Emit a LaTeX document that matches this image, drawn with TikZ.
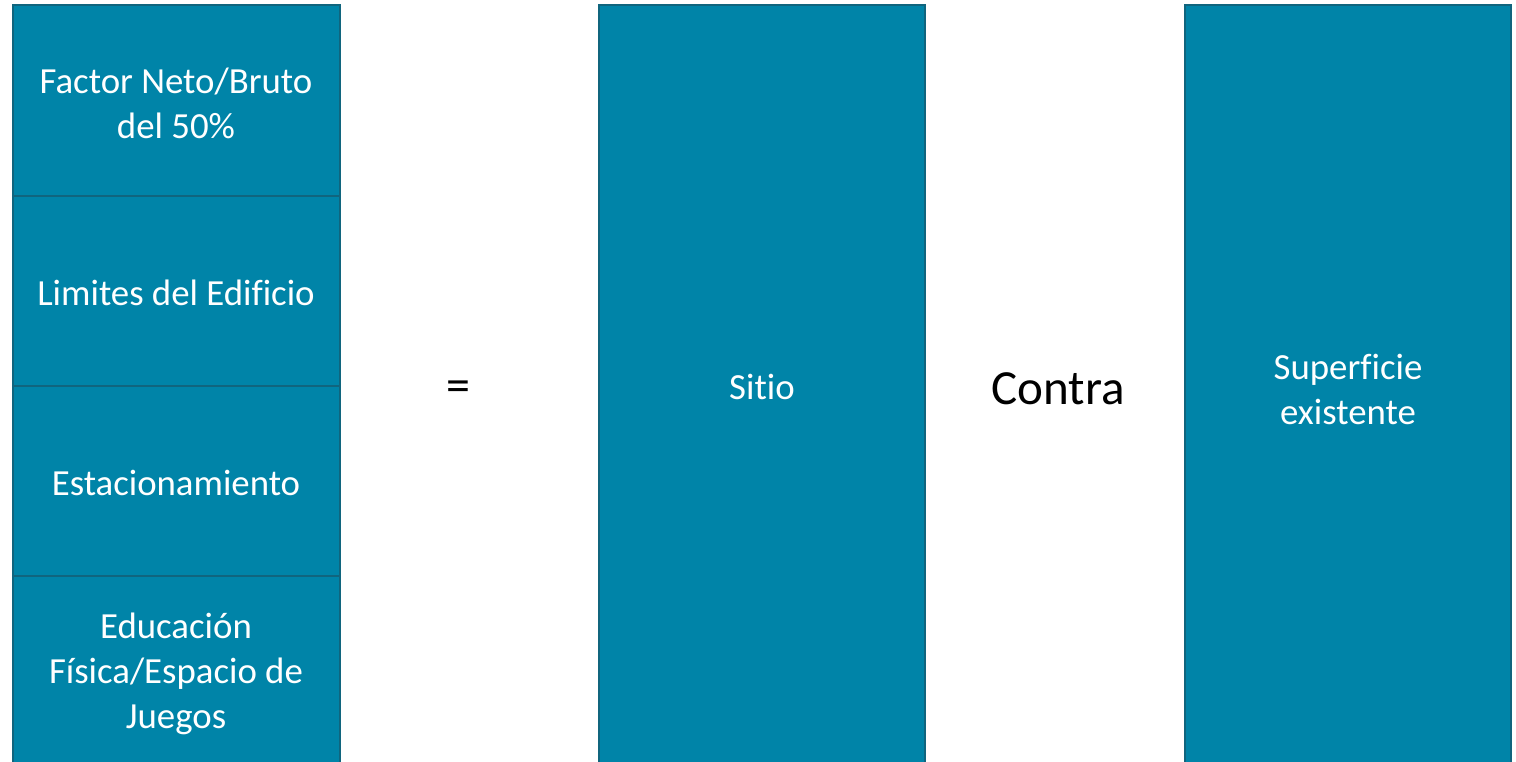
\documentclass[tikz,border=0pt]{standalone}
\usepackage{fontspec}
\setmainfont[Ligatures=NoCommon]{Carlito}
\definecolor{boxfill}{RGB}{0,132,168}
\definecolor{boxline}{RGB}{16,101,126}
\begin{document}
\begin{tikzpicture}[x=0.75pt,y=-0.75pt,
  blk/.style={fill=boxfill,draw=boxline,line width=1.6pt},
  lbl/.style={text=white,align=center,font=\fontsize{27.6pt}{33.75pt}\selectfont},
  big/.style={text=black,font=\fontsize{36.8pt}{44pt}\selectfont}]
\useasboundingbox (0,0) rectangle (1516,762);
\path[blk] (13,5) rectangle (340,196);
\path[blk] (13,196) rectangle (340,386);
\path[blk] (13,386) rectangle (340,576);
\path[blk] (13,576) rectangle (340,770);
\path[blk] (599,5) rectangle (925,770);
\path[blk] (1185,5) rectangle (1511,770);
\node[lbl] (t1) at (176,103) {Factor Neto/Bruto\\del 50\%};
\node[lbl] (t2) at (176,293) {Limites del Edificio};
\node[lbl] (t3) at (176,483) {Estacionamiento};
\node[lbl] (t4) at (176,674) {Educación\\Física/Espacio de\\Juegos};
\node[lbl] (s) at (762,387) {Sitio};
\node[lbl] (se) at (1348,389) {Superficie\\existente};
\node[text=black,font=\fontsize{36pt}{40pt}\selectfont] (eq) at (458,391) {=};
\node[big] (c) at (1058,389) {Contra};
\end{tikzpicture}
\end{document}
